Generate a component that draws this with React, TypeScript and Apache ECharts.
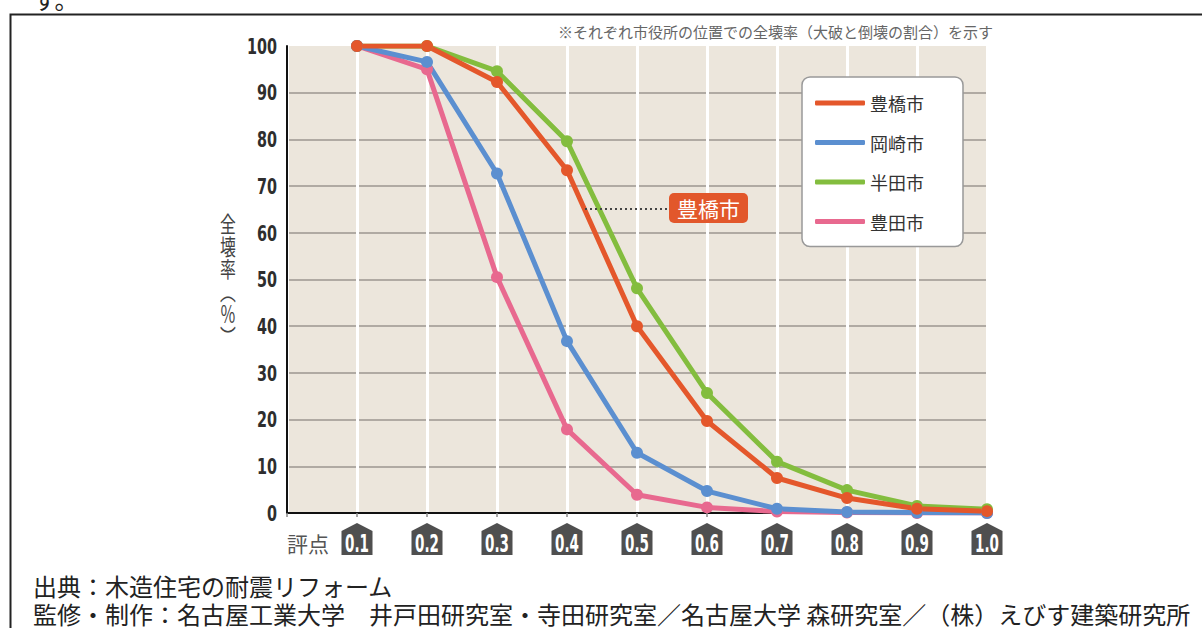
import React, { useEffect, useRef } from "react";
import * as echarts from "echarts";

const scores = [0.1, 0.2, 0.3, 0.4, 0.5, 0.6, 0.7, 0.8, 0.9, 1.0];
const scoreLabels = ["0.1", "0.2", "0.3", "0.4", "0.5", "0.6", "0.7", "0.8", "0.9", "1.0"];
const toyohashi = [100, 100, 92.3, 73.4, 40, 19.7, 7.5, 3.2, 0.9, 0.4];
const okazaki = [100, 96.6, 72.7, 36.8, 12.9, 4.7, 0.9, 0.2, 0.1, 0];
const handa = [100, 100, 94.6, 79.6, 48.1, 25.7, 11, 4.9, 1.5, 0.8];
const toyota = [100, 95, 50.5, 17.9, 3.9, 1.2, 0.3, 0.1, 0, 0];
const yTicks = [0, 10, 20, 30, 40, 50, 60, 70, 80, 90, 100];
const yNameChars = ["全", "壊", "率", "︵", "％", "︶"];

const seriesNames = ["豊橋市", "岡崎市", "半田市", "豊田市"];
const colors: Record<string, string> = {
  豊橋市: "#e4572b",
  岡崎市: "#5b8fd0",
  半田市: "#83bd3e",
  豊田市: "#e8698f",
};

const CJK = '"Noto Sans CJK JP", "Noto Sans", sans-serif';
const NARROW = '"DejaVu Sans Condensed", "Liberation Sans Narrow", "Liberation Sans", sans-serif';

export default function App() {
  const ref = useRef<HTMLDivElement>(null);
  useEffect(() => {
    if (!ref.current) return;
    const chart = echarts.init(ref.current, undefined, { renderer: "svg" });
    const mk = (name: string, data: number[]) => ({
      name,
      type: "line",
      data: scores.map((s, i) => [s, data[i]]),
      symbol: "circle",
      symbolSize: 12,
      lineStyle: { width: 5, color: colors[name] },
      itemStyle: { color: colors[name] },
      z: 3,
    });
    const option: any = {
      animation: false,
      textStyle: { fontFamily: CJK },
      grid: { left: 287, right: 215, top: 46, bottom: 115, show: true, backgroundColor: "#ece6dc", borderWidth: 0 },
      xAxis: {
        type: "value",
        min: 0,
        max: 1,
        interval: 0.1,
        axisLine: { show: true, lineStyle: { color: "#111", width: 2 } },
        axisTick: { show: true, length: 4, lineStyle: { color: "#888", width: 1.5 } },
        axisLabel: { show: false },
        splitLine: { show: true, lineStyle: { color: "#ffffff", width: 3 } },
      },
      yAxis: {
        type: "value",
        min: 0,
        max: 100,
        interval: 10,
        axisLine: { show: true, lineStyle: { color: "#111", width: 2 } },
        axisTick: { show: false },
        axisLabel: { show: false },
        splitLine: {
          show: true,
          lineStyle: {
            color: ["#9c9690", "#9c9690", "#9c9690", "#9c9690", "#9c9690", "#9c9690", "#9c9690", "#9c9690", "#9c9690", "#9c9690", "rgba(0,0,0,0)"],
            width: 1.5,
          },
        },
      },
      legend: {
        data: seriesNames,
        orient: "vertical",
        left: 802,
        top: 77,
        padding: [16, 39, 15, 13],
        itemGap: 19.5,
        itemWidth: 50,
        itemHeight: 5,
        icon: "roundRect",
        backgroundColor: "#ffffff",
        borderColor: "#999",
        borderWidth: 1.5,
        borderRadius: 8,
        textStyle: { fontSize: 18, lineHeight: 20, color: "#333", fontFamily: CJK },
      },
      series: [
        mk("豊田市", toyota),
        mk("半田市", handa),
        mk("岡崎市", okazaki),
        mk("豊橋市", toyohashi),
        {
          name: "badges",
          type: "custom",
          coordinateSystem: "cartesian2d",
          clip: false,
          silent: true,
          data: scores.map((s) => [s, 0]),
          renderItem: (params: any, api: any) => {
            const p = api.coord([api.value(0), 0]);
            const cx = p[0];
            const y0 = p[1];
            const hw = 15.5;
            return {
              type: "group",
              children: [
                {
                  type: "polygon",
                  shape: {
                    points: [
                      [cx, y0 + 10],
                      [cx + hw, y0 + 18],
                      [cx + hw, y0 + 42],
                      [cx - hw, y0 + 42],
                      [cx - hw, y0 + 18],
                    ],
                  },
                  style: { fill: "#4f4f4f" },
                },
                {
                  type: "text",
                  x: cx,
                  y: y0 + 30.5,
                  scaleY: 1.6,
                  style: {
                    text: scoreLabels[params.dataIndex],
                    fill: "#ffffff",
                    fontSize: 15,
                    fontWeight: "bold",
                    fontFamily: NARROW,
                    align: "center",
                    verticalAlign: "middle",
                  },
                },
              ],
            };
          },
          z: 5,
        },
        {
          name: "ylabels",
          type: "custom",
          coordinateSystem: "cartesian2d",
          clip: false,
          silent: true,
          data: yTicks.map((v) => [0, v]),
          renderItem: (params: any, api: any) => {
            const p = api.coord([0, api.value(1)]);
            return {
              type: "text",
              x: p[0] - 10,
              y: p[1] + 0.5,
              scaleY: 1.3,
              style: {
                text: String(yTicks[params.dataIndex]),
                fill: "#2e2e2e",
                fontSize: 16,
                fontWeight: "bold",
                fontFamily: NARROW,
                align: "right",
                verticalAlign: "middle",
              },
            };
          },
          z: 5,
        },
      ],
      graphic: [
        {
          type: "rect",
          shape: { x: 10.5, y: 14.5, width: 1400, height: 800 },
          style: { fill: "none", stroke: "#222", lineWidth: 2 },
          silent: true,
        },
        {
          type: "text",
          x: 33,
          y: -14,
          style: { text: "す。", fontSize: 24, fontFamily: CJK, fill: "#222" },
        },
        {
          type: "text",
          x: 993,
          y: 31,
          style: {
            text: "※それぞれ市役所の位置での全壊率（大破と倒壊の割合）を示す",
            fontSize: 15,
            fontFamily: CJK,
            fill: "#666",
            align: "right",
            verticalAlign: "middle",
          },
        },
        ...yNameChars.map((ch, i) => ({
          type: "text",
          x: 228,
          y: 223 + i * 22.5,
          scaleX: 0.72,
          scaleY: 1,
          style: {
            text: ch,
            fontSize: 22,
            fontWeight: "normal",
            fontFamily: CJK,
            fill: "#444",
            align: "center",
            verticalAlign: "middle",
          },
        })),
        {
          type: "text",
          x: 308,
          y: 543,
          style: { text: "評点", fontSize: 21, fontFamily: CJK, fill: "#555", align: "center", verticalAlign: "middle" },
        },
        {
          type: "line",
          shape: { x1: 585, y1: 209, x2: 668, y2: 209 },
          style: { stroke: "#444", lineWidth: 2, lineDash: [2, 3] },
          z: 10,
        },
        {
          type: "rect",
          shape: { x: 669, y: 193, width: 79, height: 30, r: 5 },
          style: { fill: "#e2572b" },
          z: 10,
        },
        {
          type: "text",
          x: 708.5,
          y: 208,
          style: { text: "豊橋市", fontSize: 21, fontFamily: CJK, fill: "#ffffff", align: "center", verticalAlign: "middle" },
          z: 11,
        },
        {
          type: "text",
          x: 33,
          y: 585,
          style: { text: "出典：木造住宅の耐震リフォーム", fontSize: 24, fontFamily: CJK, fill: "#222", verticalAlign: "middle" },
        },
        {
          type: "text",
          x: 33,
          y: 613,
          style: {
            text: "監修・制作：名古屋工業大学　井戸田研究室・寺田研究室／名古屋大学 森研究室／（株）えびす建築研究所",
            fontSize: 24,
            fontFamily: CJK,
            fill: "#222",
            verticalAlign: "middle",
          },
        },
      ],
    };
    chart.setOption(option);
    return () => chart.dispose();
  }, []);
  return (
    <div
      ref={ref}
      style={{ position: "fixed", left: 0, top: 0, width: 1202, height: 628, background: "#ffffff" }}
    />
  );
}
